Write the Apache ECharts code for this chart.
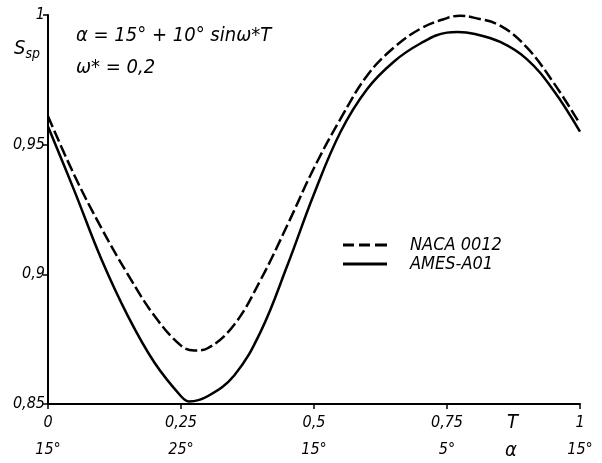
<!DOCTYPE html>
<html>
<head>
<meta charset="utf-8">
<script src="https://cdn.jsdelivr.net/npm/echarts@6/dist/echarts.min.js"></script>
<style>
  html, body { margin: 0; padding: 0; background: #fff; }
  #chart { width: 602px; height: 463px; }
</style>
</head>
<body>
<div id="chart"></div>
<script>
// Datos: T y S_sp para cada perfil
const tNaca = [0, 0.05, 0.1, 0.15, 0.2, 0.25, 0.275, 0.3, 0.35, 0.4, 0.45, 0.5, 0.55, 0.6, 0.65, 0.7, 0.75, 0.775, 0.8, 0.85, 0.9, 0.95, 1];
const sNaca = [0.961, 0.938, 0.918, 0.900, 0.884, 0.8725, 0.8706, 0.8715, 0.8806, 0.898, 0.919, 0.941, 0.960, 0.9767, 0.9874, 0.9947, 0.9988, 0.9997, 0.999, 0.9959, 0.9875, 0.974, 0.958];

const tAmes = [0, 0.05, 0.1, 0.15, 0.2, 0.25, 0.265, 0.3, 0.35, 0.4, 0.45, 0.5, 0.55, 0.6, 0.65, 0.7, 0.75, 0.77, 0.8, 0.85, 0.9, 0.95, 1];
const sAmes = [0.957, 0.932, 0.906, 0.884, 0.866, 0.853, 0.851, 0.853, 0.861, 0.878, 0.9035, 0.931, 0.955, 0.9715, 0.982, 0.989, 0.9932, 0.9934, 0.9928, 0.9896, 0.983, 0.971, 0.955];

const seriesNames = ['NACA 0012', 'AMES-A01'];

// Etiquetas de los ejes
const xTickLabels = ['0', '0,25', '0,5', '0,75', '1'];
const alphaTickLabels = ['15°', '25°', '15°', '5°', '15°'];
const yTickLabels = ['0,85', '0,9', '0,95', '1'];

const font = "'Liberation Sans Narrow', 'DejaVu Sans Condensed', 'Liberation Sans', sans-serif";

// Iconos de la leyenda: trazo discontinuo y trazo continuo
const dashedIcon = 'path://M0,0h11v3h-11z M16,0h11v3h-11z M32,0h12v3h-12z';
const solidIcon = 'path://M0,0h44v3h-44z';

const chart = echarts.init(document.getElementById('chart'));

const option = {
    backgroundColor: '#fff',
    animation: false,
    grid: { left: 48, right: 22, top: 15, bottom: 50 },
    xAxis: {
        type: 'value',
        min: 0,
        max: 1,
        interval: 0.25,
        axisLine: { lineStyle: { color: '#000', width: 2 } },
        axisTick: { show: true, length: 5, lineStyle: { color: '#000', width: 1.5 } },
        splitLine: { show: false },
        axisLabel: {
            color: '#000',
            fontFamily: font,
            fontStyle: 'italic',
            fontSize: 16,
            lineHeight: 27,
            margin: 5,
            formatter: v => {
                const i = Math.round(v / 0.25);
                return xTickLabels[i] + '\n' + alphaTickLabels[i];
            }
        }
    },
    yAxis: {
        type: 'value',
        min: 0.85,
        max: 1,
        interval: 0.05,
        axisLine: { show: true, lineStyle: { color: '#000', width: 2 } },
        axisTick: { show: true, length: 5, lineStyle: { color: '#000', width: 1.5 } },
        splitLine: { show: false },
        axisLabel: {
            color: '#000',
            fontFamily: font,
            fontStyle: 'italic',
            fontSize: 16,
            margin: 3,
            formatter: v => yTickLabels[Math.round((v - 0.85) / 0.05)]
        }
    },
    legend: {
        orient: 'vertical',
        left: 338,
        top: 231,
        itemWidth: 44,
        itemHeight: 3,
        itemGap: 1,
        data: [
            { name: seriesNames[0], icon: dashedIcon },
            { name: seriesNames[1], icon: solidIcon }
        ],
        itemStyle: { color: '#000' },
        textStyle: {
            color: '#000',
            fontFamily: font,
            fontStyle: 'italic',
            fontSize: 18,
            padding: [0, 0, 0, 18]
        }
    },
    graphic: [
        {
            type: 'text',
            left: 14,
            top: 39,
            style: {
                text: '{s|S}{sub|sp}',
                rich: {
                    s: { fontFamily: font, fontStyle: 'italic', fontSize: 20, fill: '#000' },
                    sub: { fontFamily: font, fontStyle: 'italic', fontSize: 14, fill: '#000', verticalAlign: 'bottom', padding: [10, 0, 0, 0] }
                }
            }
        },
        {
            type: 'text',
            left: 76,
            top: 26,
            style: {
                text: 'α = 15° + 10° sinω*T',
                fontFamily: font,
                fontStyle: 'italic',
                fontSize: 20,
                fill: '#000'
            }
        },
        {
            type: 'text',
            left: 76,
            top: 58,
            style: {
                text: 'ω* = 0,2',
                fontFamily: font,
                fontStyle: 'italic',
                fontSize: 20,
                fill: '#000'
            }
        },
        {
            type: 'text',
            left: 507,
            top: 413,
            style: {
                text: 'T',
                fontFamily: font,
                fontStyle: 'italic',
                fontSize: 20,
                fill: '#000'
            }
        },
        {
            type: 'text',
            left: 505,
            top: 441,
            style: {
                text: 'α',
                fontFamily: font,
                fontStyle: 'italic',
                fontSize: 20,
                fill: '#000'
            }
        }
    ],
    series: [
        {
            name: seriesNames[0],
            type: 'line',
            smooth: 0.4,
            symbol: 'none',
            lineStyle: { color: '#000', width: 2.5, type: [12, 4] },
            itemStyle: { color: '#000' },
            data: tNaca.map((t, i) => [t, sNaca[i]])
        },
        {
            name: seriesNames[1],
            type: 'line',
            smooth: 0.4,
            symbol: 'none',
            lineStyle: { color: '#000', width: 2.5 },
            itemStyle: { color: '#000' },
            data: tAmes.map((t, i) => [t, sAmes[i]])
        }
    ]
};

chart.setOption(option);
</script>
</body>
</html>
